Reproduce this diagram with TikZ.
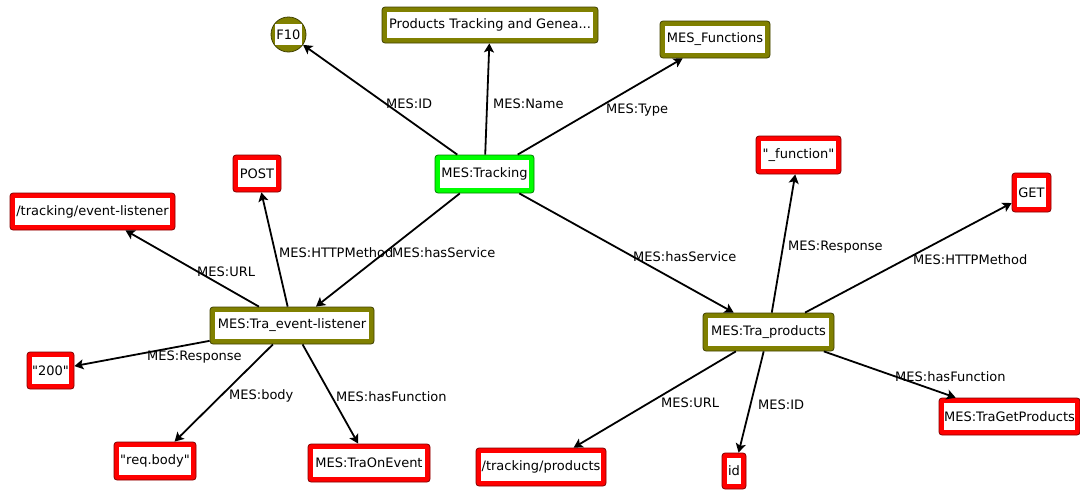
\documentclass[tikz,border=0pt]{standalone}
\usepackage{fontspec}
\setmainfont{DejaVu Sans}[Ligatures=TeXOff]
\usetikzlibrary{arrows.meta}
\definecolor{olv}{HTML}{808000}
\definecolor{rd}{HTML}{FF0000}
\definecolor{grn}{HTML}{00FF00}
\tikzset{
  txt/.style={font=\fontsize{13}{15}\selectfont, text=black},
  box/.style={rectangle, rounded corners=3pt, draw=#1!50!black, line width=0.8pt, fill=#1,
    inner sep=0pt, txt,
    path picture={\fill[white, sharp corners] ([shift={(5pt,5pt)}]path picture bounding box.south west)
      rectangle ([shift={(-5pt,-5pt)}]path picture bounding box.north east);}},
  circbox/.style={circle, draw=#1!50!black, line width=0.8pt, fill=#1, inner sep=0pt, txt,
    path picture={\fill[white] ([shift={(4pt,7pt)}]path picture bounding box.south west)
      rectangle ([shift={(-4pt,-7pt)}]path picture bounding box.north east);}},
  edge/.style={draw=black, line width=1.8pt, -{Stealth[length=9pt,width=10pt,inset=2pt]}},
  lbl/.style={txt, anchor=west, inner sep=0pt},
}
\begin{document}
\begin{tikzpicture}[x=1pt,y=-1pt]
\useasboundingbox (0,0) rectangle (1080,490);
% nodes
\node[circbox=olv, minimum size=35pt] (f10) at (288.5,34.5) {F10};
\node[box=olv, minimum width=216pt, minimum height=36pt] (prod) at (490,25) {Products Tracking and Genea...};
\node[box=olv, minimum width=110pt, minimum height=37pt] (mesf) at (715,39.5) {MES\_Functions};
\node[box=grn, minimum width=99pt, minimum height=38pt] (trk) at (484.5,174) {MES:Tracking};
\node[box=rd, minimum width=48pt, minimum height=37pt] (post) at (257,173.5) {POST};
\node[box=rd, minimum width=165pt, minimum height=37pt] (urlev) at (92.5,211.5) {/tracking/event-listener};
\node[box=olv, minimum width=164pt, minimum height=37pt] (evl) at (292,325.5) {MES:Tra\_event-listener};
\node[box=rd, minimum width=47pt, minimum height=37pt] (r200) at (50.5,370.5) {"200"};
\node[box=rd, minimum width=82pt, minimum height=38pt] (body) at (155,461) {"req.body"};
\node[box=rd, minimum width=122pt, minimum height=38pt] (onev) at (369,463) {MES:TraOnEvent};
\node[box=rd, minimum width=130pt, minimum height=38pt] (urlpr) at (541,467) {/tracking/products};
\node[box=rd, minimum width=85pt, minimum height=38pt] (func) at (798.5,155) {"\_function"};
\node[box=rd, minimum width=39pt, minimum height=39pt] (get) at (1031.5,192.5) {GET};
\node[box=olv, minimum width=131pt, minimum height=38pt] (prs) at (768.5,332) {MES:Tra\_products};
\node[box=rd, minimum width=141pt, minimum height=37pt] (getp) at (1009.5,416.5) {MES:TraGetProducts};
\node[box=rd, minimum width=24pt, minimum height=36pt] (id) at (734,471) {id};
% edges
\draw[edge] (trk) -- (f10);
\draw[edge] (trk) -- (prod);
\draw[edge] (trk) -- (mesf);
\draw[edge] (trk) -- (evl);
\draw[edge] (trk) -- (prs);
\draw[edge] (evl) -- (post);
\draw[edge] (evl) -- (urlev);
\draw[edge] (evl) -- (r200);
\draw[edge] (evl) -- (body);
\draw[edge] (evl) -- (onev);
\draw[edge] (prs) -- (func);
\draw[edge] (prs) -- (get);
\draw[edge] (prs) -- (getp);
\draw[edge] (prs) -- (id);
\draw[edge] (prs) -- (urlpr);
% labels
\node[lbl] (l1) at (386,104) {MES:ID};
\node[lbl] (l2) at (493,104) {MES:Name};
\node[lbl] (l3) at (606,110) {MES:Type};
\node[lbl] (l4) at (197,272) {MES:URL};
\node[lbl] (l5) at (279,253) {MES:HTTPMethod};
\node[lbl] (l6) at (392,253) {MES:hasService};
\node[lbl] (l7) at (147,357) {MES:Response};
\node[lbl] (l8) at (229,396) {MES:body};
\node[lbl] (l9) at (336,397) {MES:hasFunction};
\node[lbl] (l10) at (633,257) {MES:hasService};
\node[lbl] (l11) at (788,247) {MES:Response};
\node[lbl] (l12) at (913,260) {MES:HTTPMethod};
\node[lbl] (l13) at (895,377) {MES:hasFunction};
\node[lbl] (l14) at (661,403) {MES:URL};
\node[lbl] (l15) at (758,405) {MES:ID};
\end{tikzpicture}
\end{document}
